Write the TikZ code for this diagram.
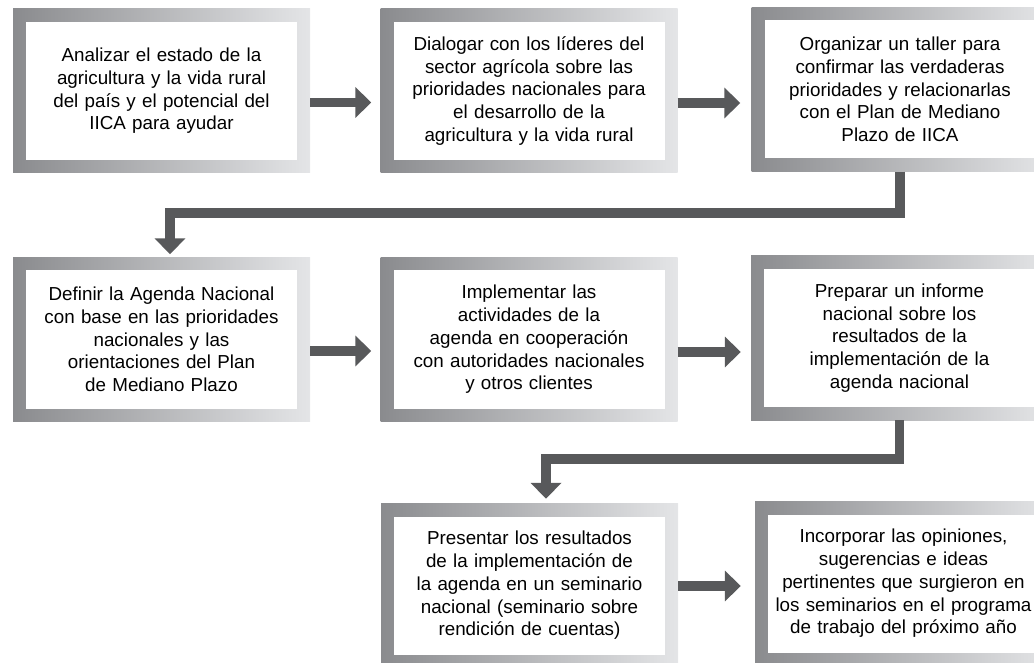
\documentclass[tikz,border=0pt]{standalone}
\usepackage{fontspec}
\setmainfont{Liberation Sans}
\usetikzlibrary{arrows.meta,calc}
\definecolor{arrowgray}{HTML}{58595B}
\definecolor{frameleft}{HTML}{8A8B8E}
\definecolor{frameright}{HTML}{E4E5E7}
\begin{document}
\begin{tikzpicture}[x=1pt,y=-1pt,
 frame/.style={minimum width=297pt,minimum height=164pt,inner sep=0pt,left color=frameleft,right color=frameright,draw=none},
 inner/.style={fill=white,minimum width=271pt,minimum height=138pt,inner sep=0pt,text width=267pt,align=center,font=\fontsize{18.8}{22.7}\selectfont},
 conn/.style={draw=arrowgray,line width=9.5pt},
 arr/.style={conn,-{Triangle[length=16pt,width=30pt]}}]
\useasboundingbox (0,0) rectangle (1034,663);
\clip (0,0) rectangle (1034,663);

% row 1
\node[frame] (b1) at (161.5,91) {};
\node[inner] (t1) at (b1) {Analizar el estado de la\\agricultura y la vida rural\\del país y el potencial del\\IICA para ayudar};
\node[frame] (b2) at (529,91) {};
\node[inner] (t2) at (b2) {Dialogar con los líderes del\\sector agrícola sobre las\\prioridades nacionales para\\el desarrollo de la\\agricultura y la vida rural};
\node[frame] (b3) at (900,89.5) {};
\node[inner] (t3) at (b3) {Organizar un taller para\\confirmar las verdaderas\\prioridades y relacionarlas\\con el Plan de Mediano\\Plazo de IICA};

% row 2
\node[frame] (b4) at (161.5,339.5) {};
\node[inner] (t4) at (b4) {Definir la Agenda Nacional\\con base en las prioridades\\nacionales y las\\orientaciones del Plan\\de Mediano Plazo};
\node[frame] (b5) at (529,339.5) {};
\node[inner] (t5) at (b5) {Implementar las\\actividades de la\\agenda en cooperación\\con autoridades nacionales\\y otros clientes};
\node[frame] (b6) at (899.5,338) {};
\node[inner] (t6) at (b6) {Preparar un informe\\nacional sobre los\\resultados de la\\implementación de la\\agenda nacional};

% row 3
\node[frame] (b7) at (529.5,585.5) {};
\node[inner] (t7) at (b7) {Presentar los resultados\\de la implementación de\\la agenda en un seminario\\nacional (seminario sobre\\rendición de cuentas)};
\node[frame] (b8) at (903.5,583.5) {};
\node[inner] (t8) at (b8) {Incorporar las opiniones,\\sugerencias e ideas\\pertinentes que surgieron en\\los seminarios en el programa\\de trabajo del próximo año};

% horizontal arrows
\coordinate (a12) at ([yshift=-11.5pt]b1.east);
\draw[arr,shorten >=9pt] (a12) -- (a12 -| b2.west);
\coordinate (a23) at ([yshift=-12pt]b2.east);
\draw[arr,shorten >=11pt] (a23) -- (a23 -| b3.west);
\coordinate (a45) at ([yshift=-11.5pt]b4.east);
\draw[arr,shorten >=9pt] (a45) -- (a45 -| b5.west);
\coordinate (a56) at ([yshift=-12.5pt]b5.east);
\draw[arr,shorten >=10pt] (a56) -- (a56 -| b6.west);
\coordinate (a78) at ([yshift=-0.5pt]b7.east);
\draw[arr,shorten >=14pt] (a78) -- (a78 -| b8.west);

% elbow connectors
\coordinate (k4) at ([xshift=8.5pt]b4.north);
\draw[arr,shorten >=3pt] (b3.south) -- ++(0,41.5) -| (k4);
\coordinate (k7) at ([xshift=16.5pt]b7.north);
\draw[arr,shorten >=4.5pt] (b6.south) -- ++(0,39) -| (k7);
\end{tikzpicture}
\end{document}
